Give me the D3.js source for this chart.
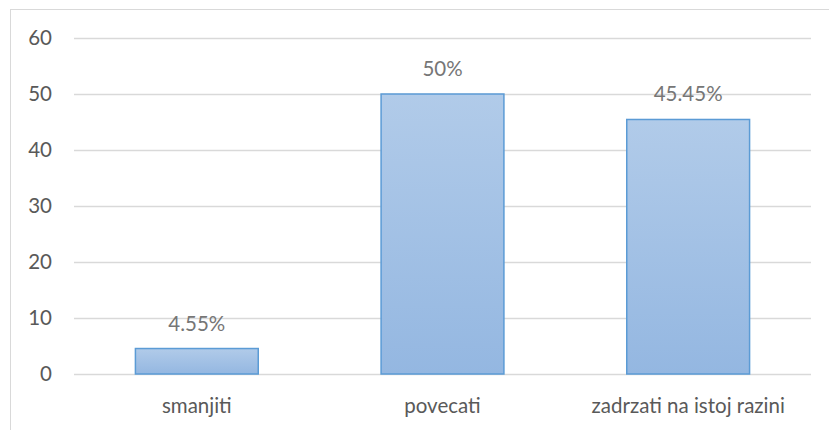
<!DOCTYPE html>
<html><head><meta charset="utf-8">
<script src="https://cdn.jsdelivr.net/npm/d3@7"></script>
<style>body{margin:0;background:#fff}svg{display:block}text{font-family:Lato,"Open Sans",sans-serif}</style>
</head><body><svg id="c" width="829" height="430"></svg>
<script>
const categories = ["smanjiti", "povecati", "zadrzati na istoj razini"];
const values = [4.55, 50, 45.45];
const valueLabels = ["4.55%", "50%", "45.45%"];
const yTicks = [0, 10, 20, 30, 40, 50, 60];

const svg = d3.select("#c");
const W = 829, H = 430;
const m = {left: 74, right: 18, top: 38, bottom: 56};
const FS = "20.5px";
const x = d3.scaleBand().domain(categories).range([m.left, W - m.right]).paddingInner(0.5).paddingOuter(0.25);
const y = d3.scaleLinear().domain([0, 60]).range([H - m.bottom, m.top]);

svg.append("rect").attr("x", 10.5).attr("y", 9.5).attr("width", 840).attr("height", 440)
  .attr("fill", "none").attr("stroke", "#d9d9d9");

const defs = svg.append("defs");
const g = defs.append("linearGradient").attr("id", "bg").attr("x1", 0).attr("y1", 0).attr("x2", 0).attr("y2", 1);
g.append("stop").attr("offset", "0%").attr("stop-color", "#b1cbe9");
g.append("stop").attr("offset", "100%").attr("stop-color", "#94b7e1");

const yAxis = d3.axisLeft(y).tickValues(yTicks).tickSize(-(W - m.left - m.right)).tickPadding(22);
const ya = svg.append("g").attr("transform", `translate(${m.left},0)`).call(yAxis);
ya.select(".domain").remove();
ya.selectAll(".tick line").attr("stroke", "#d9d9d9").attr("stroke-width", 1.3);
ya.selectAll(".tick text").attr("fill", "#595959").style("font-size", FS);

svg.selectAll(".bar").data(values).join("rect")
  .attr("x", (d, i) => x(categories[i]))
  .attr("y", d => y(d))
  .attr("width", x.bandwidth())
  .attr("height", d => y(0) - y(d))
  .attr("fill", "url(#bg)").attr("stroke", "#5b9bd5").attr("stroke-width", 1.5);

svg.selectAll(".lbl").data(values).join("text")
  .attr("x", (d, i) => x(categories[i]) + x.bandwidth() / 2)
  .attr("y", d => y(d) - 18)
  .attr("text-anchor", "middle").attr("fill", "#767676").style("font-size", FS)
  .text((d, i) => valueLabels[i]);

const xAxis = d3.axisBottom(x).tickSize(0).tickPadding(24);
const xa = svg.append("g").attr("transform", `translate(0,${y(0)})`).call(xAxis);
xa.select(".domain").remove();
xa.selectAll(".tick text").attr("fill", "#595959").style("font-size", FS);
</script></body></html>
